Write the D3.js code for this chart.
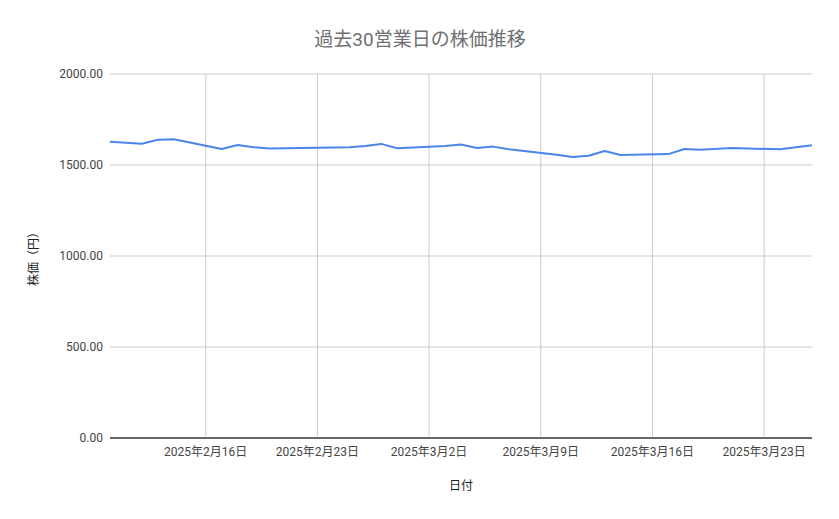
<!DOCTYPE html><html><head><meta charset="utf-8"><script src="https://cdn.jsdelivr.net/npm/d3@7"></script>
<style>body{margin:0;background:#fff}text{font-family:Roboto,"Noto Sans CJK JP",sans-serif}</style></head><body><svg id="c" width="839" height="519"></svg>
<script>
const dates=["2025-02-10","2025-02-12","2025-02-13","2025-02-14","2025-02-17","2025-02-18","2025-02-19","2025-02-20","2025-02-21","2025-02-25","2025-02-26","2025-02-27","2025-02-28","2025-03-03","2025-03-04","2025-03-05","2025-03-06","2025-03-07","2025-03-10","2025-03-11","2025-03-12","2025-03-13","2025-03-14","2025-03-17","2025-03-18","2025-03-19","2025-03-21","2025-03-24","2025-03-25","2025-03-26"];
const prices=[1628,1617,1639,1641,1588,1610,1598,1590,1592,1598,1605,1616,1592,1604,1613,1593,1601,1587,1556,1544,1551,1577,1555,1560,1588,1584,1593,1586,1598,1609];
const yTicks=[0,500,1000,1500,2000];
const xTicks=["2025-02-16","2025-02-23","2025-03-02","2025-03-09","2025-03-16","2025-03-23"];
const p=d3.timeParse("%Y-%m-%d");
const svg=d3.select("#c");
const L=110,R=812,T=74,B=438;
const x=d3.scaleTime().domain([p(dates[0]),p(dates[dates.length-1])]).range([L,R]);
const y=d3.scaleLinear().domain([0,2000]).range([B,T]);
svg.append("g").selectAll("line").data(yTicks).join("line").attr("x1",L).attr("x2",R).attr("y1",d=>y(d)).attr("y2",d=>y(d)).attr("stroke",d=>d?"#ccc":"#333").attr("stroke-width",1);
svg.append("g").selectAll("line").data(xTicks).join("line").attr("x1",d=>x(p(d))).attr("x2",d=>x(p(d))).attr("y1",T).attr("y2",B).attr("stroke","#ccc");
svg.append("line").attr("x1",L).attr("x2",R).attr("y1",B).attr("y2",B).attr("stroke","#333");
svg.append("g").selectAll("text").data(yTicks).join("text").attr("x",103).attr("y",d=>y(d)+4).attr("text-anchor","end").attr("font-size",12).attr("fill","#444").text(d=>d3.format(".2f")(d));
const fm=d3.timeFormat("%Y年%-m月%-d日");
svg.append("g").selectAll("text").data(xTicks).join("text").attr("x",d=>x(p(d))).attr("y",456).attr("text-anchor","middle").attr("font-size",12).attr("fill","#444").text(d=>fm(p(d)));
svg.append("path").datum(dates.map((d,i)=>[p(d),prices[i]])).attr("fill","none").attr("stroke","#4a86e8").attr("stroke-width",2).attr("stroke-linejoin","round").attr("d",d3.line().x(d=>x(d[0])).y(d=>y(d[1])));
svg.append("text").attr("x",420).attr("y",46).attr("text-anchor","middle").attr("font-size",19).attr("fill","#707070").text("過去30営業日の株価推移");
svg.append("text").attr("x",461).attr("y",490).attr("text-anchor","middle").attr("font-size",12).attr("fill","#222").text("日付");
svg.append("text").attr("transform","translate(38,256) rotate(-90)").attr("text-anchor","middle").attr("font-size",12).attr("fill","#222").text("株価（円）");
</script></body></html>
